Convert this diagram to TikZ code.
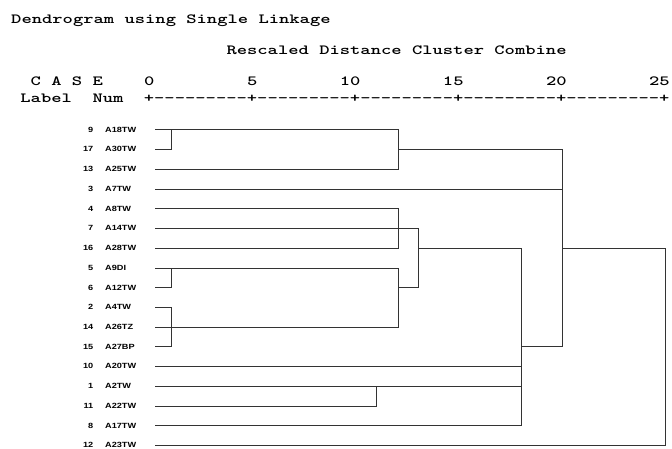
\documentclass[tikz,border=0pt]{standalone}
\usepackage{fontspec}
\setmainfont{Liberation Sans}
\usepackage{graphicx}

% monospace header text: character pitch of the listing
\newcommand{\hdrtext}[1]{\scalebox{1.402}[1]{#1}}
\newcommand{\casetext}[1]{\scalebox{1.22}[1]{#1}}

\begin{document}
\begin{tikzpicture}[x=1pt,y=-1pt,
  link/.style={draw=black!80, line width=1pt, line cap=rect, line join=miter},
  hdr/.style={anchor=base west, inner sep=0pt, font=\ttfamily\bfseries\fontsize{14}{14}\selectfont},
  tick/.style={anchor=base, inner sep=0pt, font=\ttfamily\bfseries\fontsize{14}{14}\selectfont},
  casenum/.style={anchor=east, inner sep=0pt, font=\bfseries\fontsize{7.5}{8}\selectfont},
  caselbl/.style={anchor=west, inner sep=0pt, font=\bfseries\fontsize{7.5}{8}\selectfont}]
\useasboundingbox (0,0) rectangle (672,449);

% ---- header lines (monospace grid: origin 20.2, pitch 10.306) ----
\def\xo{20.2}
\def\pitch{10.306}
\node[hdr] (title) at (11,23.3) {\hdrtext{Dendrogram using Single Linkage}};
\node[hdr] (subtitle) at ({\xo+20*\pitch},55) {\hdrtext{Rescaled Distance Cluster Combine}};
\foreach \ch/\k in {C/1,A/3,S/5,E/7}
  \node[hdr] (case\k) at ({\xo+\k*\pitch},86) {\hdrtext{\ch}};
\foreach \num/\k in {0/12,5/22,10/31,15/41,20/51,25/61}
  \node[hdr] (scale\num) at ({\xo+\k*\pitch},86) {\hdrtext{\num}};
\node[hdr] (lbl) at ({\xo},102.7) {\hdrtext{Label}};
\node[hdr] (num) at ({\xo+7*\pitch},102.7) {\hdrtext{Num}};
\foreach \i in {0,...,50}{
  \pgfmathtruncatemacro{\r}{mod(\i,10)}
  \ifnum\r=0
    \node[tick] (ax\i) at ({\xo+(12.5+\i)*\pitch},102.7) {\hdrtext{+}};
  \else
    \node[tick] (ax\i) at ({\xo+(12.5+\i)*\pitch},102.7) {\hdrtext{-}};
  \fi
}

% ---- cases: number, label and start of each leaf line ----
\foreach \n/\lab/\row in {9/A18TW/0,17/A30TW/1,13/A25TW/2,3/A7TW/3,4/A8TW/4,
    7/A14TW/5,16/A28TW/6,5/A9DI/7,6/A12TW/8,2/A4TW/9,14/A26TZ/10,15/A27BP/11,
    10/A20TW/12,1/A2TW/13,11/A22TW/14,8/A17TW/15,12/A23TW/16}{
  \coordinate (s\n) at (155,{130+19.72*\row});
  \node[casenum] (n\n) at (93.5,{129.7+19.72*\row}) {\casetext{\n}};
  \node[caselbl] (c\n) at (105,{129.7+19.72*\row}) {\casetext{\lab}};
}

% ---- merge levels on the rescaled distance axis ----
\coordinate (x1) at (171,0);
\coordinate (x11) at (376.7,0);
\coordinate (x12) at (398,0);
\coordinate (x13) at (418.3,0);
\coordinate (x18) at (521,0);
\coordinate (x20) at (562.7,0);
\coordinate (x25) at (665.7,0);

% ---- dendrogram links ----
\draw[link] (s17) -| (s9 -| x1);
\draw[link] (s13) -| (s9 -| x12) -- (s9);
\draw[link] (s17 -| x12) -- (s17 -| x20);
\draw[link] (s3) -- (s3 -| x20);
\draw[link] (s17 -| x20) -- (s15 -| x20) -- (s15 -| x18);
\draw[link] (s16 -| x20) -- (s16 -| x25) |- (s12);

\draw[link] (s4) -| (s16 -| x12) -- (s16);
\draw[link] (s7) -- (s7 -| x13) -- (s6 -| x13) -- (s6 -| x12);
\draw[link] (s16 -| x13) -- (s16 -| x18);
\draw[link] (s6) -| (s5 -| x1);
\draw[link] (s5) -- (s5 -| x12) -- (s14 -| x12);
\draw[link] (s2) -| (s15 -| x1) -- (s15);
\draw[link] (s14) -- (s14 -| x12);

\draw[link] (s16 -| x18) -- (s8 -| x18) -- (s8);
\draw[link] (s10) -- (s10 -| x18);
\draw[link] (s1) -- (s1 -| x18);
\draw[link] (s11) -| (s1 -| x11);
\end{tikzpicture}
\end{document}
